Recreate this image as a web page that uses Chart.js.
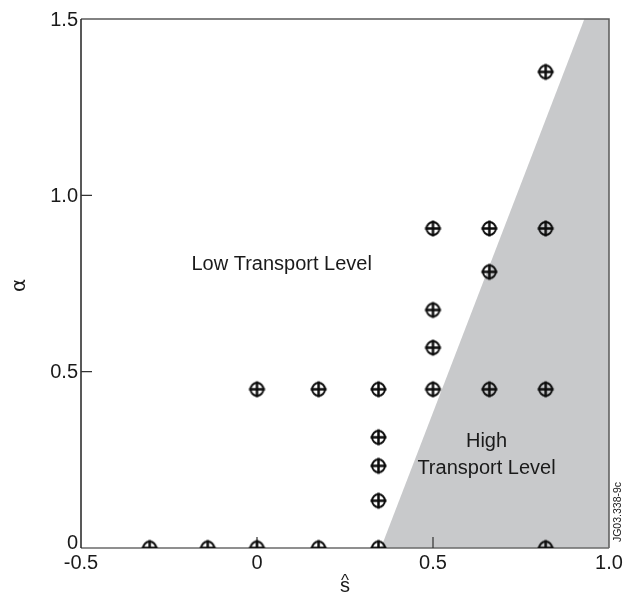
<!DOCTYPE html>
<html>
<head>
<meta charset="utf-8">
<script src="https://cdn.jsdelivr.net/npm/chart.js@4"></script>
<style>
  html, body { margin: 0; padding: 0; background: #ffffff; }
  #wrap { width: 637px; height: 598px; position: relative; }
</style>
</head>
<body>
<div id="wrap"><canvas id="c" width="637" height="598"></canvas></div>
<script>
// Magnetic shear (s-hat) and pressure gradient (alpha) of the scanned cases
const sHat   = [-0.305, -0.14, 0, 0.175, 0.345, 0.82,
                0, 0.175, 0.345, 0.5, 0.66, 0.82,
                0.345, 0.345, 0.345,
                0.5, 0.5, 0.5,
                0.66, 0.66,
                0.82, 0.82];
const alphaV = [0, 0, 0, 0, 0, 0,
                0.45, 0.45, 0.45, 0.45, 0.45, 0.45,
                0.134, 0.233, 0.314,
                0.568, 0.675, 0.906,
                0.783, 0.906,
                0.906, 1.35];

// Boundary of the high-transport region (s-hat, alpha)
const boundaryS     = [0.352, 0.93, 1.0, 1.0];
const boundaryAlpha = [0, 1.5, 1.5, 0];

// Axis ticks
const xTickValues = [-0.5, 0, 0.5, 1.0];
const xTickLabels = ['-0.5', '0', '0.5', '1.0'];
const yTickValues = [0, 0.5, 1.0, 1.5];
const yTickLabels = ['0', '0.5', '1.0', '1.5'];

// Region labels
const regionLabels = ['Low Transport Level', 'High', 'Transport Level'];

const FONT = '"Liberation Sans", Arial, Helvetica, sans-serif';
const INK = '#1a1a1a';

// Circle-with-cross marker
function makeMarker() {
  const m = document.createElement('canvas');
  m.width = 19; m.height = 19;
  const g = m.getContext('2d');
  g.strokeStyle = '#0d0d0d';
  g.lineWidth = 2;
  g.beginPath();
  g.arc(9.5, 9.5, 6.4, 0, Math.PI * 2);
  g.stroke();
  g.lineWidth = 2.5;
  g.beginPath();
  g.moveTo(9.5, 1.5); g.lineTo(9.5, 17.5);
  g.moveTo(1.5, 9.5); g.lineTo(17.5, 9.5);
  g.stroke();
  return m;
}

const points = sHat.map((s, i) => ({ x: s, y: alphaV[i] }));

const regionPlugin = {
  id: 'region',
  beforeDatasetsDraw(chart) {
    const { ctx, scales: { x, y } } = chart;
    ctx.save();
    ctx.fillStyle = '#c8c9cb';
    ctx.beginPath();
    boundaryS.forEach((s, i) => {
      const px = x.getPixelForValue(s), py = y.getPixelForValue(boundaryAlpha[i]);
      if (i === 0) ctx.moveTo(px, py); else ctx.lineTo(px, py);
    });
    ctx.closePath();
    ctx.fill();

    // frame
    const l = x.getPixelForValue(-0.5), r = x.getPixelForValue(1.0);
    const t = y.getPixelForValue(1.5), b = y.getPixelForValue(0);
    ctx.lineWidth = 1.5;
    ctx.strokeStyle = '#5a5a5a';
    ctx.beginPath();
    ctx.moveTo(l, t); ctx.lineTo(r, t); ctx.lineTo(r, b);
    ctx.stroke();
    ctx.strokeStyle = '#6a6a6a';
    ctx.beginPath();
    ctx.moveTo(l, b); ctx.lineTo(r, b);
    ctx.stroke();
    ctx.strokeStyle = '#222';
    ctx.beginPath();
    ctx.moveTo(l, t); ctx.lineTo(l, b);
    ctx.stroke();

    // inward tick marks
    ctx.lineWidth = 1.2;
    ctx.strokeStyle = '#333';
    ctx.beginPath();
    [0.5, 1.0].forEach(v => {
      const py = y.getPixelForValue(v);
      ctx.moveTo(l, py); ctx.lineTo(l + 11, py);
    });
    [0, 0.5].forEach(v => {
      const px = x.getPixelForValue(v);
      ctx.moveTo(px, b); ctx.lineTo(px, b - 11);
    });
    ctx.stroke();
    ctx.restore();
  },
  afterDatasetsDraw(chart) {
    const { ctx, scales: { x, y } } = chart;
    const l = x.getPixelForValue(-0.5), r = x.getPixelForValue(1.0);
    const b = y.getPixelForValue(0), t = y.getPixelForValue(1.5);
    ctx.save();
    ctx.fillStyle = INK;
    ctx.font = '20px ' + FONT;

    // y tick labels
    ctx.textAlign = 'right';
    ctx.textBaseline = 'middle';
    yTickValues.forEach((v, i) => {
      let py = y.getPixelForValue(v);
      if (v === 0) py -= 6;
      ctx.fillText(yTickLabels[i], l - 3, py + 1);
    });
    // x tick labels
    ctx.textAlign = 'center';
    ctx.textBaseline = 'alphabetic';
    xTickValues.forEach((v, i) => {
      ctx.fillText(xTickLabels[i], x.getPixelForValue(v), b + 21);
    });

    // region labels
    ctx.fillText(regionLabels[0], x.getPixelForValue(0.07), y.getPixelForValue(0.788));
    ctx.fillText(regionLabels[1], x.getPixelForValue(0.652), y.getPixelForValue(0.285));
    ctx.fillText(regionLabels[2], x.getPixelForValue(0.652), y.getPixelForValue(0.21));

    // axis titles
    const cx = (l + r) / 2;
    ctx.fillText('s', cx, b + 44);
    ctx.font = '17px ' + FONT;
    ctx.fillText('^', cx, b + 38);

    ctx.save();
    ctx.translate(20, (t + b) / 2 + 2);
    ctx.rotate(-Math.PI / 2);
    ctx.font = '20px "DejaVu Sans", ' + FONT;
    ctx.textAlign = 'center';
    ctx.textBaseline = 'middle';
    ctx.fillText('\u03B1', 0, 0);
    ctx.restore();

    // figure id
    ctx.save();
    ctx.translate(621, 512);
    ctx.rotate(-Math.PI / 2);
    ctx.font = '10.5px ' + FONT;
    ctx.textAlign = 'center';
    ctx.textBaseline = 'alphabetic';
    ctx.fillText('JG03.338-9c', 0, 0);
    ctx.restore();

    ctx.restore();
  }
};

new Chart(document.getElementById('c'), {
  type: 'scatter',
  data: {
    datasets: [{
      data: points,
      pointStyle: makeMarker(),
      pointRadius: 9,
      pointHoverRadius: 9,
      borderColor: '#111',
      backgroundColor: 'rgba(0,0,0,0)'
    }]
  },
  options: {
    responsive: false,
    animation: false,
    events: [],
    layout: { padding: { left: 81, top: 19, right: 28, bottom: 50 } },
    plugins: { legend: { display: false }, tooltip: { enabled: false } },
    scales: {
      x: { type: 'linear', min: -0.5, max: 1.0, display: false },
      y: { type: 'linear', min: 0, max: 1.5, display: false }
    }
  },
  plugins: [regionPlugin]
});
</script>
</body>
</html>
